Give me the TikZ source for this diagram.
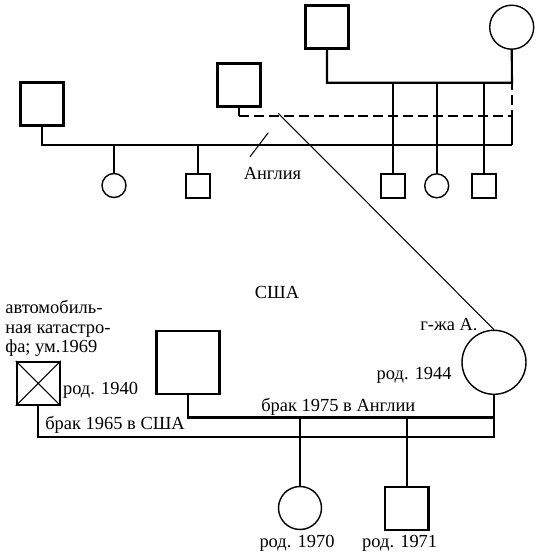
\documentclass[tikz,border=0pt]{standalone}
\usepackage{fontspec}
\setmainfont{Liberation Serif}
\usetikzlibrary{positioning}
\tikzstyle{man} = [rectangle, draw=black, line width=1.2pt, minimum size=0.86cm, inner sep=0pt]
\tikzstyle{woman} = [circle, draw=black, line width=0.8pt, minimum size=0.86cm, inner sep=0pt]
\tikzstyle{kid} = [minimum size=0.48cm]
\tikzstyle{kin} = [line width=1.2pt]
\tikzstyle{thinkin} = [line width=0.6pt]
\tikzstyle{lbl} = [font=\fontsize{10.5}{11.3}\selectfont, inner sep=0pt]

\begin{document}
\begin{tikzpicture}[x=0.02cm, y=-0.02cm]
\useasboundingbox (0,0) rectangle (540,558);

% England
\node (m1) [man] at (42,104) {};
\node (m2) [man] at (239,85) {};
\node (gf) [man] at (327,27) {};
\node (gm) [woman, minimum size=0.88cm] at (511.7,27.2) {};
\node (c1) [woman, kid] at (114,185.5) {};
\node (c2) [man, kid] at (198,185.7) {};
\node (s1) [man, kid] at (393.3,185.8) {};
\node (s2) [woman, kid] at (436.7,185.8) {};
\node (s3) [man, kid] at (484,185.8) {};
\coordinate (sib) at (512,82.7);
\coordinate (dr) at (512,115.7);
\coordinate (mar) at (512,145);
\coordinate (eng) at (278.3,113.3);

\draw[kin] (m1.south) |- (mar);
\draw[kin] (gf.south) |- (sib) -- (gm.south);
\draw[kin] (m2.south) -- (m2.south |- dr);
\draw[kin, dash pattern=on 5.7pt off 2.8pt] (m2.south |- dr) -- (dr) -- (sib);
\draw[kin] (dr) -- (mar);
\foreach \k in {c1,c2} \draw[kin] (\k.north) -- (\k.north |- mar);
\foreach \k in {s1,s2,s3} \draw[kin] (\k.north) -- (\k.north |- sib);

\node[lbl] (ang) at (272.5,173) {Англия};
\draw[thinkin] (250,156.7) -- (268.3,132.7);

% USA
\node (d1) [man] at (38.3,383.3) {};
\draw[thinkin] (d1.north west) -- (d1.south east) (d1.north east) -- (d1.south west);
\node (h2) [man, minimum size=1.26cm] at (188,362.5) {};
\node (A) [woman, minimum size=1.28cm] at (494,362.3) {};
\node (k1) [woman] at (300,508) {};
\node (k2) [man, minimum size=0.87cm] at (406.7,508.3) {};
\coordinate (m65) at (494,436.7);
\coordinate (m75) at (494,417.5);

\draw[kin] (d1.south) |- (m65) -- (A.south);
\draw[kin] (h2.south) |- (m75);
\foreach \k in {k1,k2} \draw[kin] (\k.north) -- (\k.north |- m75);
\draw[thinkin] (eng) -- (A.north);

\node[lbl] (usa) at (277,292) {США};
\node[lbl, anchor=west, align=left] (crash) at (5,328.5) {автомобиль-\\ная катастро-\\фа; ум.1969};
\node[lbl, anchor=west] (b40) at (62.7,390) {род. 1940};
\node[lbl, anchor=west] (w65) at (45,425) {брак 1965 в США};
\node[lbl] (w75) at (338.3,406.7) {брак 1975 в Англии};
\node[lbl] (mrsA) at (449,325) {г-жа А.};
\node[lbl, anchor=east] (b44) at (452,375) {род. 1944};
\node[lbl] (b70) at (297,543.3) {род. 1970};
\node[lbl] (b71) at (399.7,543.3) {род. 1971};
\end{tikzpicture}
\end{document}
